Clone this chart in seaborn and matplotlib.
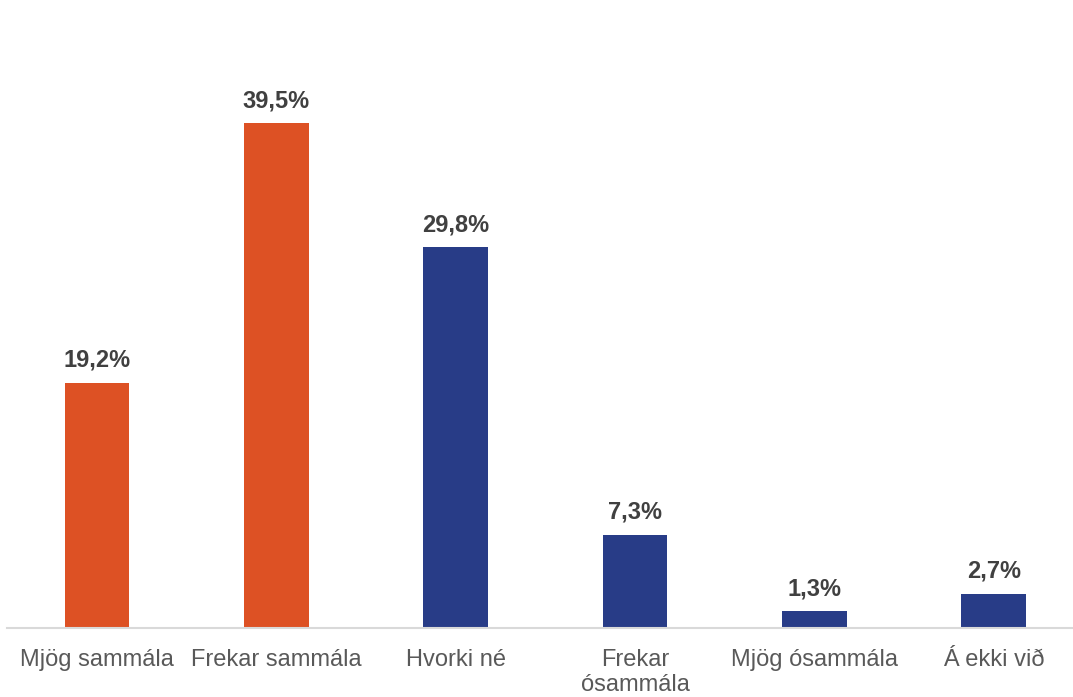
import matplotlib
matplotlib.use("Agg")
import matplotlib.pyplot as plt
import seaborn as sns
import pandas as pd

categories = ["Mjög sammála", "Frekar sammála", "Hvorki né",
              "Frekar\nósammála", "Mjög ósammála", "Á ekki við"]
values = [19.2, 39.5, 29.8, 7.3, 1.3, 2.7]
labels = ["19,2%", "39,5%", "29,8%", "7,3%", "1,3%", "2,7%"]
orange = "#DD5124"
blue = "#283C87"
colors = [orange, orange, blue, blue, blue, blue]

df = pd.DataFrame({"cat": categories, "val": values})

sns.set_style("white")
plt.rcParams["font.family"] = ["Liberation Sans", "DejaVu Sans"]

fig = plt.figure(figsize=(10.73, 6.97), dpi=100)
ax = fig.add_axes([7.3 / 1073, 69 / 697, 1076 / 1073, 575 / 697])

sns.barplot(data=df, x="cat", y="val", hue="cat", palette=colors,
            width=0.36, legend=False, ax=ax, saturation=1, linewidth=0)

# value labels above bars
for i, (v, lab) in enumerate(zip(values, labels)):
    ax.annotate(lab, (i, v), xytext=(0, 8), textcoords="offset points",
                ha="center", va="bottom", fontsize=17, fontweight="bold",
                color="#404040")

ax.set_xlim(-0.5, 5.5)
ax.set_ylim(0, 45)
ax.set_xlabel("")
ax.set_ylabel("")
ax.set_yticks([])
ax.tick_params(axis="x", length=0, pad=15, labelsize=17, labelcolor="#595959")
for s in ["top", "right", "left"]:
    ax.spines[s].set_visible(False)
ax.spines["bottom"].set_color("#D9D9D9")
ax.spines["bottom"].set_linewidth(1.5)

fig.savefig("out.png", dpi=100)
